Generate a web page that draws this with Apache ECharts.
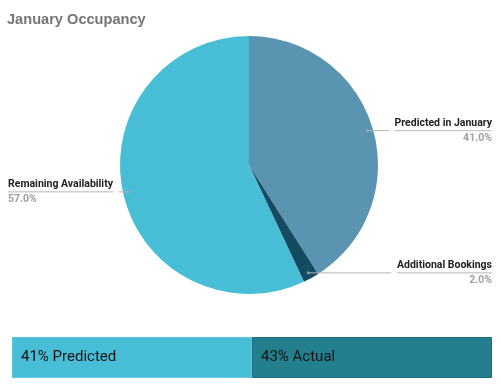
<!DOCTYPE html>
<html>
<head>
<meta charset="utf-8">
<script src="https://cdn.jsdelivr.net/npm/echarts@6/dist/echarts.min.js"></script>
<style>html,body{margin:0;padding:0;background:#fff}#c{width:500px;height:387px}</style>
</head>
<body>
<div id="c"></div>
<script>
var titleText = 'January Occupancy';
var sliceNames = ['Predicted in January', 'Additional Bookings', 'Remaining Availability'];
var sliceValues = [41.0, 2.0, 57.0];
var sliceColors = ['#5a94b1', '#154a63', '#48bdd6'];
var barNames = ['Predicted', 'Actual'];
var barPercents = [41, 43];
var barSpans = [1, 1];
var barColors = ['#48bdd6', '#237e8e'];
var barBorders = ['#5cc7de', '#1d6f7d'];

var pieData = sliceNames.map(function (n, i) {
  return { name: n, value: sliceValues[i], itemStyle: { color: sliceColors[i] } };
});
var labelData = sliceNames.map(function (n, i) {
  return { name: n, value: sliceValues[i] };
});
var total = sliceValues.reduce(function (a, b) { return a + b; }, 0);
var cum = 0;
var dotData = sliceValues.map(function (v) {
  var mid = cum + v / 2; cum += v;
  return [123, mid / total * 100];
});

var chart = echarts.init(document.getElementById('c'), null, { renderer: 'canvas' });
chart.setOption({
  animation: false,
  title: {
    text: titleText, left: 2, top: 7,
    textStyle: { fontFamily: 'Liberation Sans, Arial, sans-serif', fontSize: 14.6, fontWeight: 'bold', color: '#757575' }
  },
  polar: { center: [249, 165], radius: 129 },
  angleAxis: { type: 'value', min: 0, max: 100, startAngle: 90, clockwise: true, show: false },
  radiusAxis: { type: 'value', min: 0, max: 129, show: false },
  grid: { left: 12, right: 8, top: 337, height: 41 },
  xAxis: { type: 'category', data: barNames, show: false, gridIndex: 0 },
  yAxis: { type: 'value', min: 0, max: 1, show: false, gridIndex: 0 },
  series: [
    {
      type: 'pie', center: [249, 165], radius: 129, startAngle: 90, clockwise: true,
      data: pieData, label: { show: false }, labelLine: { show: false }, silent: true, z: 1
    },
    {
      type: 'pie', center: [249, 165], radius: 123, startAngle: 90, clockwise: true,
      data: labelData, silent: true, z: 3,
      itemStyle: { color: 'rgba(0,0,0,0)' },
      label: {
        position: 'outside', alignTo: 'edge', edgeDistance: 8,
        fontFamily: 'Roboto, sans-serif',
        formatter: function (p) {
          return '{name|' + p.name + '}\n{hr|}\n{per|' + sliceValues[p.dataIndex].toFixed(1) + '%}';
        },
        rich: {
          name: { fontFamily: 'Roboto, sans-serif', fontSize: 10.5, fontWeight: 'bold', color: '#222', lineHeight: 15 },
          hr: { borderColor: '#b5b5b5', width: '100%', borderWidth: 0.6, height: 0 },
          per: { fontFamily: 'Roboto, sans-serif', fontSize: 10.5, fontWeight: 'bold', color: '#a0a0a0', lineHeight: 15 }
        }
      },
      labelLine: { show: true, length: 0.1, length2: 0, lineStyle: { color: '#b5b5b5', width: 1 } }
    },
    {
      type: 'scatter', coordinateSystem: 'polar', data: dotData, symbolSize: 3, silent: true, z: 4,
      itemStyle: { color: '#a8a8a8' }
    },
    {
      type: 'bar', xAxisIndex: 0, yAxisIndex: 0, barWidth: '100%', barCategoryGap: 0, silent: true,
      data: barSpans.map(function (v, i) {
        return { value: v, itemStyle: { color: barColors[i], borderColor: barBorders[i], borderWidth: 1 } };
      }),
      label: {
        show: true, position: 'insideLeft', distance: 9,
        fontFamily: 'Roboto, sans-serif', fontSize: 15, color: '#151515',
        formatter: function (p) { return barPercents[p.dataIndex] + '% ' + barNames[p.dataIndex]; }
      }
    }
  ]
});
</script>
</body>
</html>
